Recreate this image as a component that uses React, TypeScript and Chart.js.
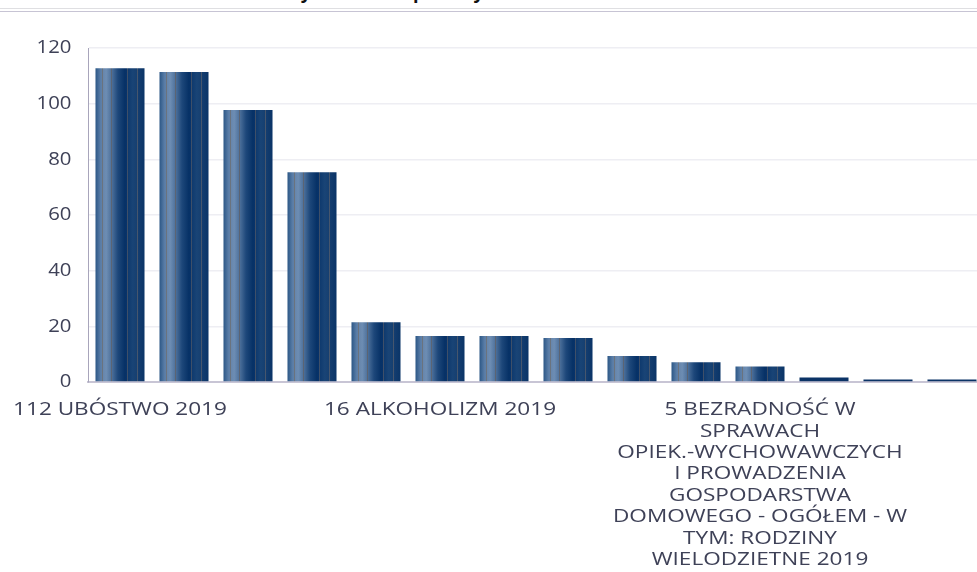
import React, { useEffect, useRef } from "react";
import { Chart, registerables } from "chart.js";

Chart.register(...registerables);

const TITLE = "Powody udzielania pomocy w 2019 roku";

const categories: string[] = [
  "112 UBÓSTWO 2019",
  "111 BEZROBOCIE 2019",
  "97 DŁUGOTRWAŁA LUB CIĘŻKA CHOROBA 2019",
  "75 NIEPEŁNOSPRAWNOŚĆ 2019",
  "21 POTRZEBA OCHRONY MACIERZYŃSTWA 2019",
  "16 ALKOHOLIZM 2019",
  "16 BEZRADNOŚĆ W SPRAWACH OPIEK.-WYCHOWAWCZYCH I PROWADZENIA GOSPODARSTWA DOMOWEGO - OGÓŁEM 2019",
  "15 POTRZEBA OCHRONY MACIERZYŃSTWA - W TYM: WIELODZIETNOŚĆ 2019",
  "9 PRZEMOC W RODZINIE 2019",
  "7 BEZDOMNOŚĆ 2019",
  "5 BEZRADNOŚĆ W\nSPRAWACH\nOPIEK.-WYCHOWAWCZYCH\nI PROWADZENIA\nGOSPODARSTWA\nDOMOWEGO - OGÓŁEM - W\nTYM: RODZINY\nWIELODZIETNE 2019",
  "2 TRUDNOŚCI W PRZYSTOSOWANIU DO ŻYCIA PO ZWOLNIENIU Z ZAKŁADU KARNEGO 2019",
  "1 NARKOMANIA 2019",
  "1 ZDARZENIE LOSOWE 2019",
];

const values: number[] = [112.7, 111.4, 97.7, 75.4, 21.5, 16.5, 16.5, 15.8, 9.3, 7.1, 5.6, 1.6, 0.9, 0.9];

const yTicks: number[] = [0, 20, 40, 60, 80, 100, 120];

const FONT = "'Open Sans', 'Noto Sans', sans-serif";
const LABEL_EVERY = 5;
const WRAP_WIDTH = 305; // on-screen px
const X_STRETCH = 1.22;
const Y_STRETCH = 1.1;
const TEXT_COLOR = "#3e4157";

function wrapLabel(text: string, ctx: CanvasRenderingContext2D, maxW: number): string[] {
  const lines: string[] = [];
  for (const part of text.split("\n")) {
    const words = part.split(" ");
    let cur = "";
    for (const w of words) {
      const test = cur ? cur + " " + w : w;
      if (cur && ctx.measureText(test).width > maxW) {
        lines.push(cur);
        cur = w;
      } else {
        cur = test;
      }
    }
    if (cur) lines.push(cur);
  }
  return lines;
}

const labelPlugin = {
  id: "stretchedLabels",
  afterDraw(chart: any) {
    const { ctx, scales } = chart;
    const x = scales.x;
    const y = scales.y;
    ctx.save();
    ctx.fillStyle = TEXT_COLOR;
    ctx.textBaseline = "middle";

    // x labels
    ctx.font = `18.5px ${FONT}`;
    ctx.textAlign = "center";
    categories.forEach((c, i) => {
      if (i % LABEL_EVERY !== 0) return;
      const cx = x.getPixelForValue(i);
      const lines = wrapLabel(c, ctx, WRAP_WIDTH / X_STRETCH);
      lines.forEach((ln, k) => {
        ctx.save();
        ctx.translate(cx, x.top + 28 + k * 21.4);
        ctx.scale(X_STRETCH, 1);
        ctx.fillText(ln, 0, 0);
        ctx.restore();
      });
    });

    // y labels
    ctx.font = `18.5px ${FONT}`;
    ctx.textAlign = "right";
    yTicks.forEach((v) => {
      const py = y.getPixelForValue(v);
      ctx.save();
      ctx.translate(y.right - 16.5, py);
      ctx.scale(Y_STRETCH, 1);
      ctx.fillText(String(v), 0, 0);
      ctx.restore();
    });
    ctx.restore();
  },
};

export default function App() {
  const ref = useRef<HTMLCanvasElement | null>(null);

  useEffect(() => {
    if (!ref.current) return;
    const chart = new Chart(ref.current, {
      type: "bar",
      data: {
        labels: categories,
        datasets: [
          {
            data: values,
            categoryPercentage: 1,
            barPercentage: 0.766,
            borderWidth: 0,
            backgroundColor: (ctx: any) => {
              const ch = ctx.chart;
              const xs = ch.scales?.x;
              if (!ch.chartArea || !xs) return "#0b3366";
              const v = ctx.raw as number;
              if (v < 3) return "#0b3366";
              const cw = xs.width / categories.length;
              const w = cw * 0.766;
              const cx = xs.getPixelForValue(ctx.dataIndex);
              const x0 = cx - w / 2;
              const g = ch.ctx.createLinearGradient(x0, 0, x0 + w, 0);
              g.addColorStop(0, "#2c5786");
              g.addColorStop(0.1, "#587ca6");
              g.addColorStop(0.13, "#5f80a8");
              g.addColorStop(0.135, "#6a737e");
              g.addColorStop(0.15, "#6a737e");
              g.addColorStop(0.155, "#6786ac");
              g.addColorStop(0.22, "#6d8db3");
              g.addColorStop(0.31, "#52759f");
              g.addColorStop(0.315, "#5b6473");
              g.addColorStop(0.335, "#5b6473");
              g.addColorStop(0.34, "#4a6e99");
              g.addColorStop(0.46, "#1d477a");
              g.addColorStop(0.6, "#063166");
              g.addColorStop(0.64, "#08336a");
              g.addColorStop(0.645, "#3e4f68");
              g.addColorStop(0.66, "#3e4f68");
              g.addColorStop(0.665, "#0f3a6e");
              g.addColorStop(0.76, "#194476");
              g.addColorStop(0.845, "#163f70");
              g.addColorStop(0.85, "#46566d");
              g.addColorStop(0.865, "#46566d");
              g.addColorStop(0.87, "#143d6f");
              g.addColorStop(1, "#0a3467");
              return g;
            },
          },
        ],
      },
      options: {
        responsive: false,
        animation: false,
        layout: { padding: { top: 48, right: 16, left: 0, bottom: 0 } },
        plugins: {
          legend: { display: false },
          title: { display: false },
          tooltip: { enabled: false },
        },
        scales: {
          x: {
            grid: { display: false, drawTicks: false },
            border: { display: true, color: "#c8c5d5", width: 2 },
            afterFit: (s: any) => {
              s.height = 190;
            },
            ticks: { display: false, autoSkip: false, maxRotation: 0 },
          },
          y: {
            min: yTicks[0],
            max: yTicks[yTicks.length - 1],
            afterFit: (s: any) => {
              s.width = 88;
            },
            afterBuildTicks: (s: any) => {
              s.ticks = yTicks.map((v) => ({ value: v }));
            },
            grid: { color: "#eeeef3", lineWidth: 1.5, drawTicks: false },
            border: { display: true, color: "#a8a5bb", width: 1 },
            ticks: { display: false },
          },
        },
      },
      plugins: [labelPlugin],
    });
    return () => chart.destroy();
  }, []);

  return (
    <div
      style={{
        position: "absolute",
        left: 0,
        top: 0,
        width: 977,
        height: 572,
        overflow: "hidden",
        background: "#fff",
      }}
    >
      <div
        style={{
          position: "absolute",
          top: -18,
          left: -70,
          width: 977,
          textAlign: "center",
          fontFamily: FONT,
          fontWeight: 700,
          fontSize: 18,
          lineHeight: "20px",
          color: "#111",
          whiteSpace: "nowrap",
        }}
      >
        {TITLE}
      </div>
      <div style={{ position: "absolute", top: 8, left: 0, width: 977, height: 1, background: "#dfdfe2" }} />
      <div style={{ position: "absolute", top: 11, left: 0, width: 977, height: 1, background: "#c7c4d4" }} />
      <canvas ref={ref} width={1000} height={572} style={{ position: "absolute", left: 0, top: 0 }} />
    </div>
  );
}
